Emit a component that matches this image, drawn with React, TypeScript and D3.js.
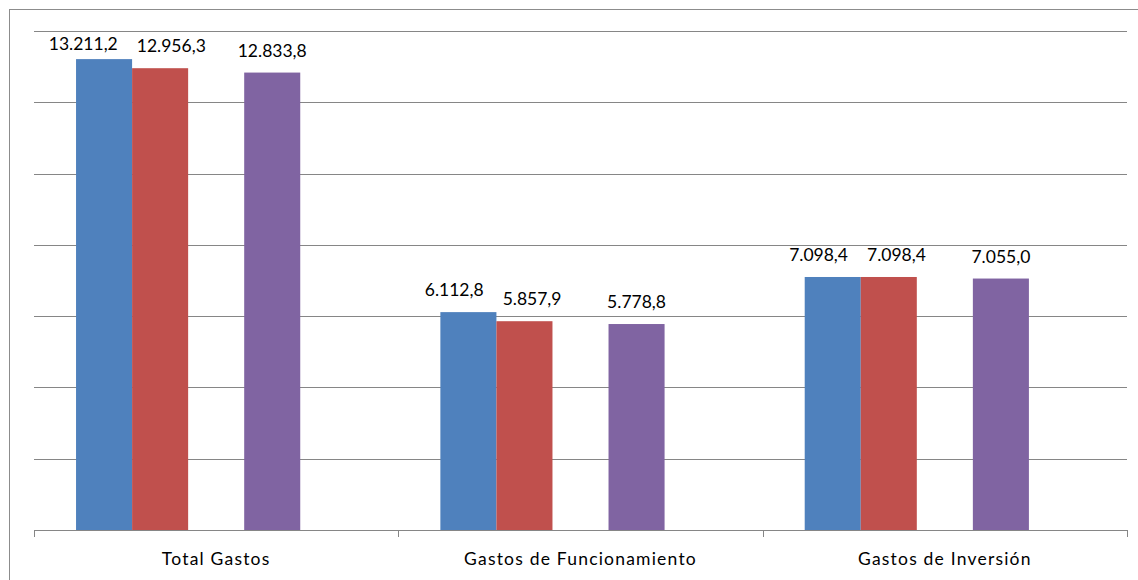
import React, { useEffect, useRef } from "react";
import * as d3 from "d3";

const categories = ["Total Gastos", "Gastos de Funcionamiento", "Gastos de Inversión"];
const seriesNames = ["Serie 1", "Serie 2", "Serie 3", "Serie 4", "Serie 5"];
const serie1 = [13211.2, 6112.8, 7098.4];
const serie2 = [12956.3, 5857.9, 7098.4];
const serie3: (number | null)[] = [null, null, null];
const serie4 = [12833.8, 5778.8, 7055.0];
const serie5: (number | null)[] = [null, null, null];
const seriesColors = ["#4F81BD", "#C0504D", "#9BBB59", "#8064A2", "#4BACC6"];
const yTicks = [0, 2000, 4000, 6000, 8000, 10000, 12000, 14000];

const W = 1138;
const H = 580;

const fmt = (v: number) => {
  const s = v.toFixed(1);
  const [intPart, dec] = s.split(".");
  const withDots = intPart.replace(/\B(?=(\d{3})+(?!\d))/g, ".");
  return withDots + "," + dec;
};

export default function App() {
  const ref = useRef<SVGSVGElement>(null);

  useEffect(() => {
    const svg = d3.select(ref.current);
    svg.selectAll("*").remove();

    const left = 34, right = 1127, top = 31, bottom = 530;
    const allSeries = [serie1, serie2, serie3, serie4, serie5];

    // outer frame (cropped)
    svg.append("rect")
      .attr("x", 9.5).attr("y", 9.5)
      .attr("width", 1300).attr("height", 800)
      .attr("fill", "#fff").attr("stroke", "#8c8c8c").attr("stroke-width", 1);

    const x0 = d3.scaleBand<string>().domain(categories).range([left, right]).paddingInner(0).paddingOuter(0);
    const x1 = d3.scaleBand<string>().domain(seriesNames).range([0, x0.bandwidth()]).paddingOuter(0.75).paddingInner(0);
    const y = d3.scaleLinear().domain([0, 14000]).range([bottom, top]);

    // gridlines
    svg.append("g").selectAll("line").data(yTicks.slice(1)).join("line")
      .attr("x1", left).attr("x2", right)
      .attr("y1", (d) => Math.round(y(d)) + 0.5).attr("y2", (d) => Math.round(y(d)) + 0.5)
      .attr("stroke", "#868686").attr("stroke-width", 1);

    // bars
    const g = svg.append("g");
    allSeries.forEach((vals, si) => {
      vals.forEach((v, ci) => {
        if (v == null) return;
        g.append("rect")
          .attr("x", x0(categories[ci])! + x1(seriesNames[si])!)
          .attr("y", y(v))
          .attr("width", x1.bandwidth())
          .attr("height", y(0) - y(v))
          .attr("fill", seriesColors[si]);
      });
    });

    // axis line and ticks
    svg.append("line").attr("x1", left).attr("x2", right)
      .attr("y1", bottom + 0.5).attr("y2", bottom + 0.5)
      .attr("stroke", "#868686").attr("stroke-width", 1);
    const boundaries = categories.map((c) => x0(c)!).concat([right]);
    svg.append("g").selectAll("line").data(boundaries).join("line")
      .attr("x1", (d) => Math.round(d) + 0.5).attr("x2", (d) => Math.round(d) + 0.5)
      .attr("y1", bottom).attr("y2", bottom + 7)
      .attr("stroke", "#868686");

    // category labels
    svg.append("g").selectAll("text").data(categories).join("text")
      .attr("x", (d) => x0(d)! + x0.bandwidth() / 2)
      .attr("y", 565)
      .attr("text-anchor", "middle")
      .attr("font-family", "Lato, 'Open Sans', sans-serif")
      .attr("font-size", 17.5)
      .attr("letter-spacing", 1.2)
      .attr("fill", "#000")
      .text((d) => d);

    // data labels with collision avoidance
    const labelFont = "Lato, 'Open Sans', sans-serif";
    const labelSize = 17.5;
    categories.forEach((c, ci) => {
      const items: { cx: number; y: number; text: string; w: number }[] = [];
      allSeries.forEach((vals, si) => {
        const v = vals[ci];
        if (v == null) return;
        const cx = x0(c)! + x1(seriesNames[si])! + x1.bandwidth() / 2;
        const t = svg.append("text")
          .attr("font-family", labelFont).attr("font-size", labelSize)
          .attr("text-anchor", "middle").attr("fill", "#000")
          .text(fmt(v));
        const w = (t.node() as SVGTextElement).getComputedTextLength();
        t.remove();
        items.push({ cx, y: Math.max(y(v) - 16, 50), text: fmt(v), w });
      });
      const gap = 19;
      for (let i = 0; i < items.length - 1; i++) {
        const a = items[i], b = items[i + 1];
        const need = a.w / 2 + b.w / 2 + gap - (b.cx - a.cx);
        if (need > 0) {
          a.cx -= need * 0.65;
          b.cx += need * 0.35;
        }
      }
      items.forEach((it) => {
        svg.append("text")
          .attr("x", it.cx).attr("y", it.y)
          .attr("font-family", labelFont).attr("font-size", labelSize)
          .attr("text-anchor", "middle").attr("fill", "#000")
          .text(it.text);
      });
    });
  }, []);

  return (
    <svg ref={ref} width={W} height={H} style={{ position: "absolute", left: 0, top: 0, background: "#fff" }} />
  );
}
